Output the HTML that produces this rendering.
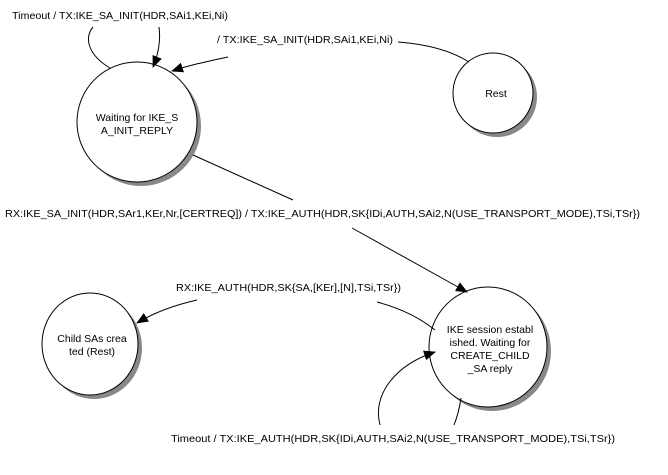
<!DOCTYPE html>
<html><head><meta charset="utf-8"><style>
html,body{margin:0;padding:0;background:#fff;}
svg{display:block;}
text{font-family:"Liberation Sans",Arial,sans-serif;font-size:10.5px;fill:#000;}
</style></head><body>
<svg width="668" height="475" viewBox="0 0 668 475" xmlns="http://www.w3.org/2000/svg">
<defs>
<marker id="a" markerWidth="12" markerHeight="10" refX="11" refY="5" orient="auto" markerUnits="userSpaceOnUse">
<path d="M0,0 L12,5 L0,10 z" fill="#000"/>
</marker>
</defs>
<!-- shadows -->
<circle cx="141" cy="126" r="60" fill="#888"/>
<circle cx="497" cy="97" r="40" fill="#888"/>
<ellipse cx="94" cy="348" rx="48" ry="51" fill="#888"/>
<ellipse cx="492" cy="351" rx="59" ry="60" fill="#888"/>
<!-- circles -->
<circle cx="137" cy="122" r="60" fill="#fff" stroke="#000" stroke-width="1"/>
<circle cx="493" cy="93" r="40" fill="#fff" stroke="#000" stroke-width="1"/>
<ellipse cx="90" cy="344" rx="48" ry="51" fill="#fff" stroke="#000" stroke-width="1"/>
<ellipse cx="488" cy="347" rx="59" ry="60" fill="#fff" stroke="#000" stroke-width="1"/>
<!-- edges -->
<g fill="none" stroke="#000" stroke-width="1">
<path d="M110,68 C88,55 84,38 93,27"/>
<path d="M159,27 C161,42 158,55 153,67" marker-end="url(#a)"/>
<path d="M228,57 C205,62 190,65 172,71" marker-end="url(#a)"/>
<path d="M398,42 C425,44 450,50 469,62"/>
<path d="M193,155 L293,200"/>
<path d="M352,228 L467,292" marker-end="url(#a)"/>
<path d="M435,330 C420,318 400,308 377,302"/>
<path d="M197,300 C175,305 155,312 137,323" marker-end="url(#a)"/>
<path d="M454,425 C458,415 460,405 461,398"/>
<path d="M380,425 C372,395 395,365 435,352" marker-end="url(#a)"/>
</g>
<!-- labels -->
<text x="12" y="19" textLength="216" lengthAdjust="spacingAndGlyphs">Timeout / TX:IKE_SA_INIT(HDR,SAi1,KEi,Ni)</text>
<text x="217" y="43" textLength="176" lengthAdjust="spacingAndGlyphs">/ TX:IKE_SA_INIT(HDR,SAi1,KEi,Ni)</text>
<text x="5" y="217" textLength="635" lengthAdjust="spacingAndGlyphs">RX:IKE_SA_INIT(HDR,SAr1,KEr,Nr,[CERTREQ]) / TX:IKE_AUTH(HDR,SK{IDi,AUTH,SAi2,N(USE_TRANSPORT_MODE),TSi,TSr})</text>
<text x="176" y="291" textLength="225" lengthAdjust="spacingAndGlyphs">RX:IKE_AUTH(HDR,SK{SA,[KEr],[N],TSi,TSr})</text>
<text x="171" y="442" textLength="444" lengthAdjust="spacingAndGlyphs">Timeout / TX:IKE_AUTH(HDR,SK{IDi,AUTH,SAi2,N(USE_TRANSPORT_MODE),TSi,TSr})</text>
<!-- node text -->
<g text-anchor="middle">
<text x="137" y="121">Waiting for IKE_S</text>
<text x="137" y="134">A_INIT_REPLY</text>
<text x="496" y="97">Rest</text>
<text x="92" y="342">Child SAs crea</text>
<text x="92" y="355">ted (Rest)</text>
<text x="490" y="333">IKE session establ</text>
<text x="490" y="346">ished. Waiting for</text>
<text x="490" y="359">CREATE_CHILD</text>
<text x="490" y="372">_SA reply</text>
</g>
</svg>
</body></html>
